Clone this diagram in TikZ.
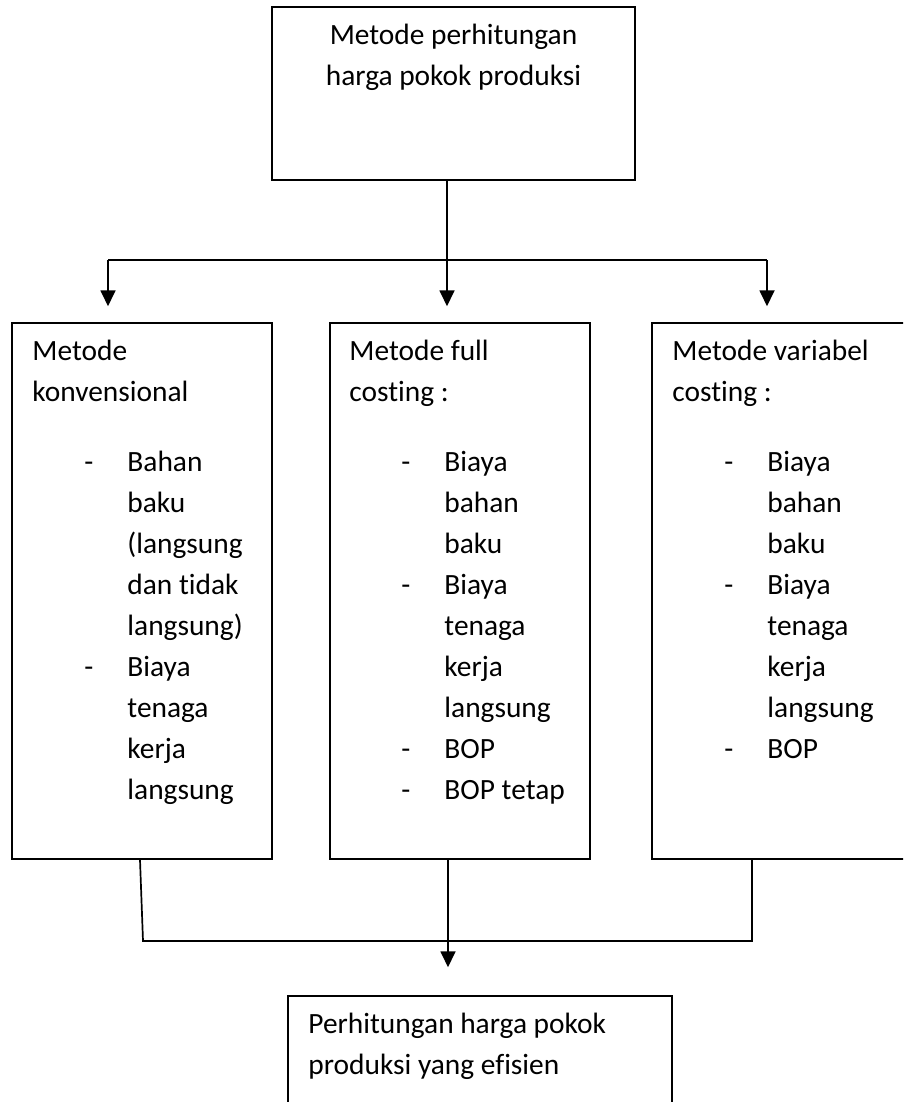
\documentclass[tikz,border=0pt]{standalone}
\usepackage{fontspec}
\setmainfont{Carlito}[Ligatures=NoCommon]
\usepackage{tikz}
\usetikzlibrary{arrows.meta,positioning}

\newcommand{\butir}[1]{\makebox[95pt][l]{\hspace{52pt}-}#1}
\newcommand{\lanjut}[1]{\hspace*{95pt}#1}

\begin{document}
\begin{tikzpicture}[x=1pt, y=-1pt,
  every node/.style={font=\fontsize{29.4}{41}\selectfont},
  kotak/.style={draw, line width=1.5pt, inner sep=0pt, minimum width=260pt, minimum height=536pt},
  teks/.style={inner sep=0pt, align=left},
  garis/.style={line width=1.7pt},
  panah/.style={line width=1.8pt, -{Triangle[width=15pt,length=16pt]}}]
  \clip (0,0) rectangle (903,1102);
  % kotak utama
  \node[kotak, minimum width=363pt, minimum height=173pt] (metode) at (453.5,93.5) {};
  \node[teks, align=center, anchor=north, below=18pt of metode.north] (metodetxt)
    {Metode perhitungan\\harga pokok produksi};
  % tiga metode
  \node[kotak] (konv) at (142,591) {};
  \node[kotak] (full) at (460,591) {};
  \node[kotak] (var) at (782,591) {};
  \node[teks, below right=18pt and 21pt of konv.north west] (konvtxt)
    {Metode\\konvensional\\[29pt]\butir{Bahan}\\\lanjut{baku}\\\lanjut{(langsung}\\\lanjut{dan tidak}\\\lanjut{langsung)}\\\butir{Biaya}\\\lanjut{tenaga}\\\lanjut{kerja}\\\lanjut{langsung}};
  \node[teks, below right=18pt and 20pt of full.north west] (fulltxt)
    {Metode full\\costing :\\[29pt]\butir{Biaya}\\\lanjut{bahan}\\\lanjut{baku}\\\butir{Biaya}\\\lanjut{tenaga}\\\lanjut{kerja}\\\lanjut{langsung}\\\butir{BOP}\\\butir{BOP tetap}};
  \node[teks, below right=18pt and 21pt of var.north west] (vartxt)
    {Metode variabel\\costing :\\[29pt]\butir{Biaya}\\\lanjut{bahan}\\\lanjut{baku}\\\butir{Biaya}\\\lanjut{tenaga}\\\lanjut{kerja}\\\lanjut{langsung}\\\butir{BOP}};
  % hasil
  \node[kotak, minimum width=384pt, minimum height=144pt] (hasil) at (480,1068) {};
  \node[teks, below right=18pt and 21pt of hasil.north west] (hasiltxt)
    {Perhitungan harga pokok\\produksi yang efisien};
  % percabangan atas
  \coordinate (bagi) at (447,260);
  \coordinate (bagiL) at (108,260);
  \coordinate (bagiR) at (767,260);
  \draw[garis] (bagiL) -- (bagiR);
  \draw[panah, shorten >=16pt] (metode.south -| bagi) -- (bagi |- full.north);
  \draw[panah, shorten >=16pt] (bagiL) -- (bagiL |- konv.north);
  \draw[panah, shorten >=16pt] (bagiR) -- (bagiR |- var.north);
  % penggabungan bawah
  \coordinate (gabungL) at (143,941);
  \coordinate (gabungR) at (752,941);
  \coordinate (gabung) at (448,941);
  \draw[garis] ([xshift=-2pt]konv.south) -- (gabungL) -- (gabungR) -- (gabungR |- var.south);
  \draw[panah, shorten >=28pt] (full.south -| gabung) -- (gabung |- hasil.north);
\end{tikzpicture}
\end{document}
